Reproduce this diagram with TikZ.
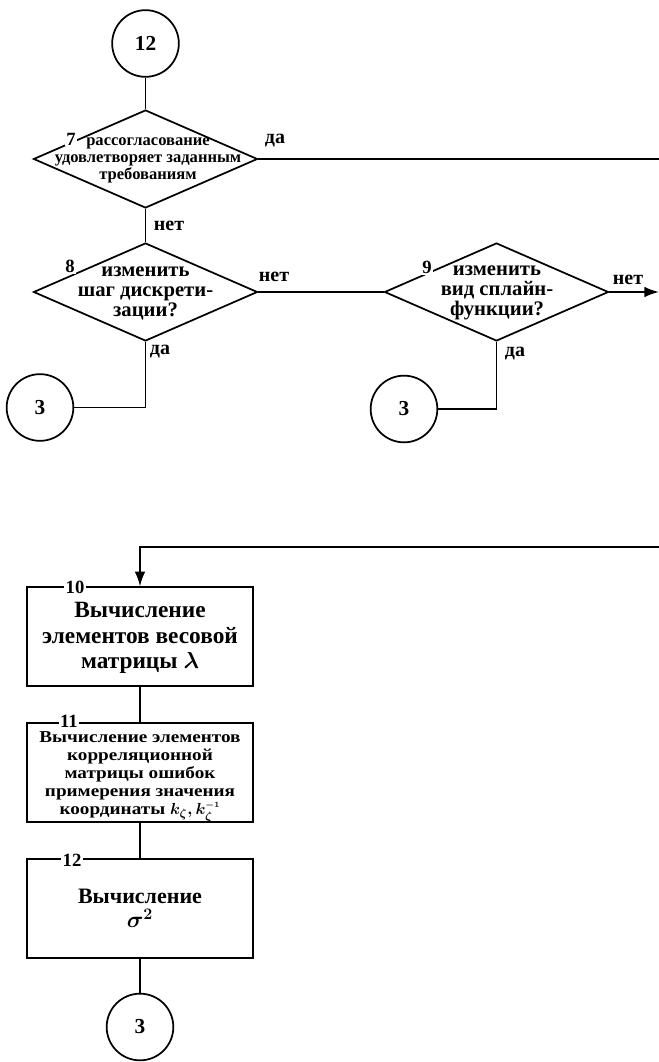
\documentclass[tikz,border=0pt]{standalone}
\usepackage{amsmath}
\usepackage{fontspec}
\setmainfont{Liberation Serif}
\usetikzlibrary{shapes.geometric,arrows.meta}

\begin{document}
\begin{tikzpicture}[x=0.75pt,y=-0.75pt,
  line width=1.3pt,
  dmd/.style={draw, diamond, inner sep=0pt, minimum width=168pt, minimum height=73.5pt},
  conn/.style={draw, circle, inner sep=0pt, minimum size=50pt, font=\fontsize{16}{16}\selectfont\bfseries},
  blk/.style={draw, rectangle, inner sep=0pt, minimum width=170pt, minimum height=74pt},
  dtxt/.style={align=center, inner sep=0pt},
  num/.style={fill=white, inner sep=1pt, font=\fontsize{14}{14}\selectfont\bfseries},
  ans/.style={inner sep=0pt, font=\fontsize{15}{15}\selectfont\bfseries},
  arr/.style={-{Latex[length=11pt,width=8pt]}}
]
\useasboundingbox (0,0) rectangle (659,1062);

% ---- decision 7 ----
\node[conn] (c12) at (145.5,43.5) {12};
\node[dmd] (d7) at (145.5,159) {};
\node[dtxt, font=\fontsize{12.4}{12.75}\selectfont\bfseries] (t7) at (148,160)
  {рассогласование\\удовлетворяет заданным\\требованиям};
\node[num] (n7) at (71,139) {7};
\coordinate (e7) at (659,159);
\draw (c12) -- (d7.north);
\draw (d7.east) -- (e7);
\node[ans] (a7y) at (275,141) {да};

% ---- decision 8 ----
\node[dmd] (d8) at (145.5,292) {};
\node[dtxt, font=\fontsize{15.5}{15}\selectfont\bfseries] (t8) at (145.5,293)
  {изменить\\шаг дискрети-\\зации?};
\node[num] (n8) at (70,266) {8};
\draw (d7.south) -- (d8.north);
\node[ans] (a7n) at (169,226) {нет};
\node[ans] (a8n) at (274,277) {нет};
\node[ans] (a8y) at (160,352) {да};
\node[conn] (c3a) at (40,407.5) {3};
\draw (d8.south) |- (c3a.east);

% ---- decision 9 ----
\node[dmd] (d9) at (496.5,292) {};
\node[dtxt, font=\fontsize{15.5}{15}\selectfont\bfseries] (t9) at (497,293)
  {изменить\\вид сплайн-\\функции?};
\node[num] (n9) at (427,267) {9};
\draw (d8.east) -- (d9.west);
\coordinate (e9) at (659,292);
\draw[arr] (d9.east) -- (e9);
\node[ans] (a9n) at (628,280) {нет};
\node[ans] (a9y) at (515,354) {да};
\node[conn] (c3b) at (404,409) {3};
\draw (d9.south) |- (c3b.east);

% ---- process blocks ----
\coordinate (in10) at (659,547);
\node[blk] (b10) at (140,636.5) {};
\node[dtxt, font=\fontsize{17.5}{19}\selectfont\bfseries] (t10) at (140,638)
  {Вычисление\\элементов весовой\\матрицы $\boldsymbol{\lambda}$};
\node[num] (n10) at (75,587) {10};
\draw[arr] (in10) -| (b10.north);

\node[blk] (b11) at (140,772.5) {};
\node[dtxt, font=\fontsize{12.5}{13.6}\selectfont\bfseries\addfontfeature{FakeStretch=1.15}] (t11) at (140,777)
  {Вычисление элементов\\корреляционной\\матрицы ошибок\\примерения значения\\координаты $\boldsymbol{k_\zeta, k_\zeta^{\scriptscriptstyle -1}}$};
\node[num] (n11) at (69,721) {11};
\draw (b10.south) -- (b11.north);

\node[blk] (b12) at (140,908.5) {};
\node[dtxt, font=\fontsize{16.5}{18}\selectfont\bfseries] (t12) at (b12)
  {Вычисление\\$\boldsymbol{\sigma^2}$};
\node[num] (n12) at (72,860) {12};
\draw (b11.south) -- (b12.north);

\node[conn] (c3c) at (140,1027) {3};
\draw (b12.south) -- (c3c.north);
\end{tikzpicture}
\end{document}
